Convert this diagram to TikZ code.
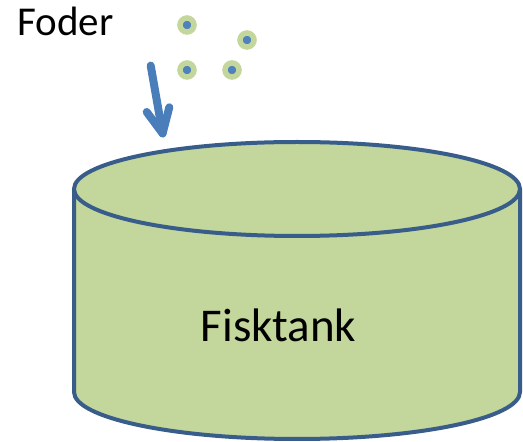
\documentclass[tikz,border=0pt]{standalone}
\usepackage{fontspec}
\setmainfont{Carlito}
\definecolor{tankfill}{HTML}{C3D69B}
\definecolor{tankline}{HTML}{385D8A}
\definecolor{arrowblue}{HTML}{4A7EBB}
\definecolor{dotblue}{HTML}{4F81BD}
\tikzset{
  tankstyle/.style={draw=tankline, line width=4pt, fill=tankfill},
  bigtext/.style={font=\fontsize{41}{48}\selectfont, inner sep=0pt},
  tanktext/.style={font=\fontsize{47}{54}\selectfont, inner sep=0pt},
  pellet/.style={circle, fill=dotblue, draw=tankfill, line width=5.5pt, minimum size=14pt, inner sep=0pt},
  feedarrow/.style={draw=arrowblue, line width=8pt, line cap=round, line join=round}
}
\begin{document}
\begin{tikzpicture}[x=1pt,y=1pt]
\useasboundingbox (0,0) rectangle (523,442);
% cylinder body
\fill[tankfill] (74,253) -- (74,50) arc[start angle=180, end angle=360, x radius=223, y radius=47] -- (520,253) -- cycle;
\draw[tankstyle, fill=none] (74,253) -- (74,50) arc[start angle=180, end angle=360, x radius=223, y radius=47] -- (520,253);
\draw[tankstyle] (297,253) ellipse[x radius=223, y radius=47];
\node[tanktext, anchor=base] (tank) at (278.5,100.3) {Fisktank};
% label
\node[bigtext, anchor=base] (foder) at (65.5,406) {Foder};
% pellets
\node[pellet] (p1) at (187,417) {};
\node[pellet] (p2) at (247,402) {};
\node[pellet] (p3) at (187,372) {};
\node[pellet] (p4) at (232,372) {};
% arrow
\coordinate (astart) at (150.7,376.4);
\coordinate (atip) at (162.6,308.6);
\coordinate (wl) at (146.7,330);
\coordinate (wr) at (169.3,334.7);
\draw[feedarrow] (astart) -- (atip);
\draw[feedarrow] (wl) -- (atip) -- (wr);
\end{tikzpicture}
\end{document}
